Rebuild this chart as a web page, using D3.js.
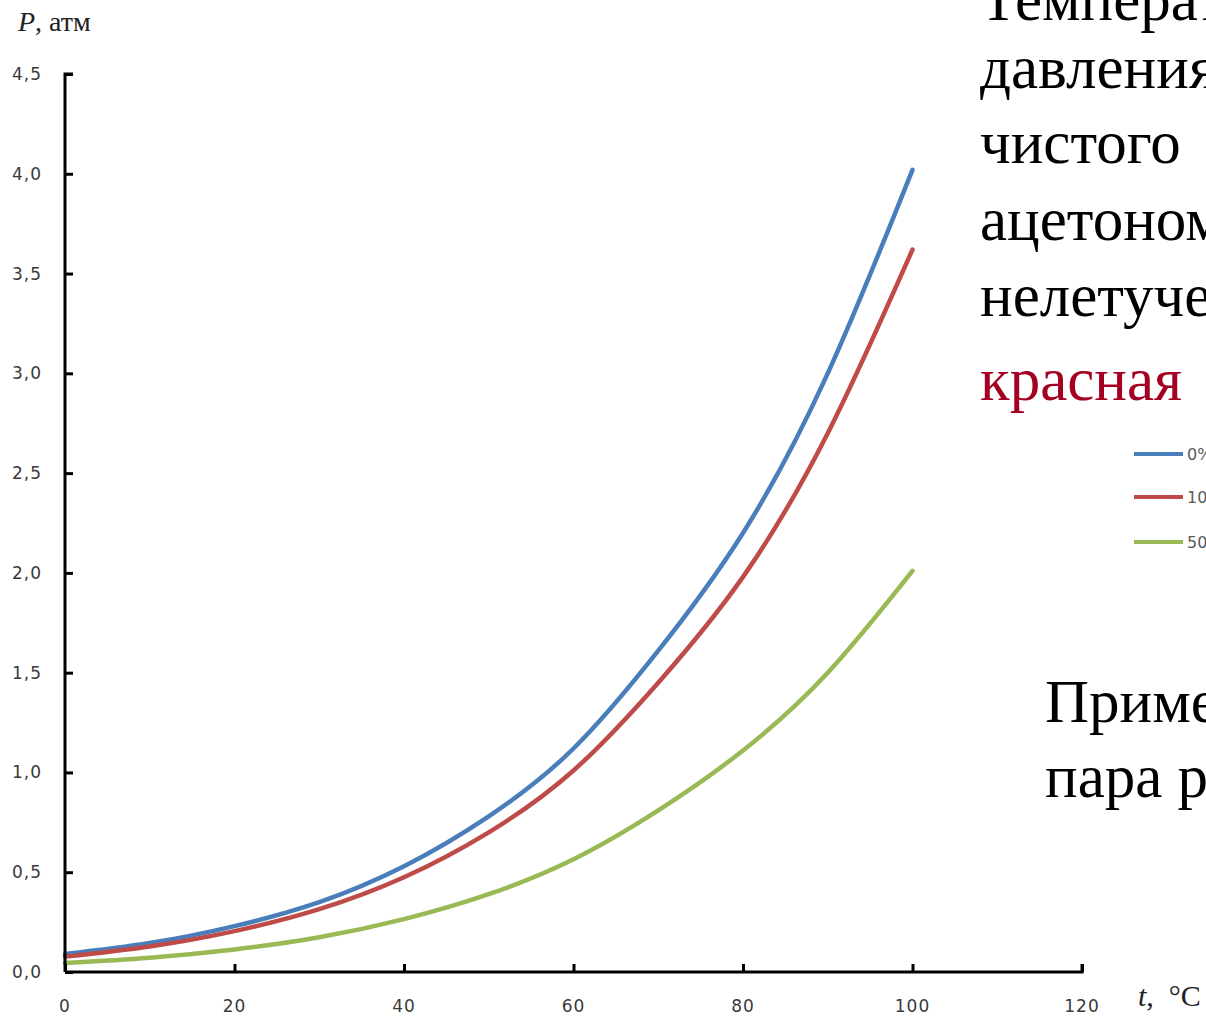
<!DOCTYPE html>
<html><head><meta charset="utf-8">
<script src="https://cdn.jsdelivr.net/npm/d3@7"></script>
<style>
html,body{margin:0;padding:0;background:#fff;overflow:hidden;}
</style></head>
<body>
<svg id="chart" width="1206" height="1016"></svg>
<script>
const temps = [0,10,20,30,40,50,60,70,80,90,100];
const p0  = [0.09,0.145,0.23,0.35,0.53,0.78,1.12,1.61,2.2,3.0,4.02];
const p10 = [0.077,0.128,0.205,0.315,0.475,0.70,1.01,1.45,1.98,2.7,3.62];
const p50 = [0.045,0.072,0.113,0.174,0.265,0.39,0.565,0.81,1.11,1.5,2.01];
const seriesNames = ["0%","10%","50%"];
const seriesColors = ["#4a7ebb","#be4b48","#98b954"];
const xTicks = [0,20,40,60,80,100,120];
const yTicks = [0,0.5,1,1.5,2,2.5,3,3.5,4,4.5];
const textLines = ["Температура","давления","чистого","ацетоном","нелетучего"];
const redLine = "красная";
const noteLines = ["Примечание","пара р"];

const svg = d3.select("#chart");
const x = d3.scaleLinear().domain([0,120]).range([65,1082]);
const y = d3.scaleLinear().domain([0,4.5]).range([972,74]);

// curves
const series = [p0,p10,p50];
const line = d3.line().x(d=>x(d[0])).y(d=>y(d[1])).curve(d3.curveNatural);
series.forEach((s,i)=>{
  svg.append("path")
    .datum(temps.map((t,j)=>[t,s[j]]))
    .attr("d",line).attr("fill","none")
    .attr("stroke",seriesColors[i]).attr("stroke-width",4.5)
    .attr("stroke-linecap","round");
});

// axes
const fmt = d=>d3.format(".1f")(d).replace(".",",");
const yAxis = svg.append("g").attr("transform","translate(65,0)")
  .call(d3.axisRight(y).tickValues(yTicks).tickSize(8).tickFormat(""));
const xAxis = svg.append("g").attr("transform","translate(0,972)")
  .call(d3.axisTop(x).tickValues(xTicks).tickSize(8).tickFormat(""));
[yAxis,xAxis].forEach(a=>{
  a.select(".domain").attr("stroke","#000").attr("stroke-width",3);
  a.selectAll(".tick line").attr("stroke","#000").attr("stroke-width",3);
});
xAxis.select(".domain").attr("d","M65,0H1082V-8");
yAxis.select(".domain").attr("d","M8,"+y(4.5)+"H0V"+y(0));

svg.append("g").selectAll("text").data(yTicks).join("text")
  .attr("x",42).attr("y",d=>y(d)+6).attr("text-anchor","end")
  .attr("font-family","DejaVu Sans").attr("font-size",17).attr("letter-spacing",1)
  .attr("fill","#3a3a3a").text(fmt);
svg.append("g").selectAll("text").data(xTicks).join("text")
  .attr("x",d=>x(d)).attr("y",1012).attr("text-anchor","middle")
  .attr("font-family","DejaVu Sans").attr("font-size",17).attr("letter-spacing",1)
  .attr("fill","#3a3a3a").text(d=>d);

// axis titles
const pt = svg.append("text").attr("x",18).attr("y",31)
  .attr("font-family","Liberation Serif").attr("font-size",28).attr("fill","#222");
pt.append("tspan").attr("font-style","italic").text("P");
pt.append("tspan").text(", атм");
const tt = svg.append("text").attr("x",1138).attr("y",1006)
  .attr("font-family","Liberation Serif").attr("font-size",30).attr("fill","#222");
tt.append("tspan").attr("font-style","italic").text("t");
tt.append("tspan").text(", \u00a0°C");

// legend
const legY = [454,497,542];
seriesNames.forEach((n,i)=>{
  svg.append("line").attr("x1",1134).attr("x2",1183).attr("y1",legY[i]).attr("y2",legY[i])
    .attr("stroke",seriesColors[i]).attr("stroke-width",4);
  svg.append("text").attr("x",1187).attr("y",legY[i]+6)
    .attr("font-family","DejaVu Sans").attr("font-size",16).attr("fill","#595959").text(n);
});

// slide text
const baseY = [20,88,163,240,316];
textLines.forEach((t,i)=>{
  svg.append("text").attr("x",980).attr("y",baseY[i])
    .attr("font-family","Liberation Serif").attr("font-size",61).attr("fill","#000").text(t);
});
svg.append("text").attr("x",980).attr("y",400)
  .attr("font-family","Liberation Serif").attr("font-size",61).attr("fill","#a50021").text(redLine);
const noteY = [722,797];
noteLines.forEach((t,i)=>{
  svg.append("text").attr("x",1045).attr("y",noteY[i])
    .attr("font-family","Liberation Serif").attr("font-size",61).attr("fill","#000").text(t);
});
</script>
</body></html>
